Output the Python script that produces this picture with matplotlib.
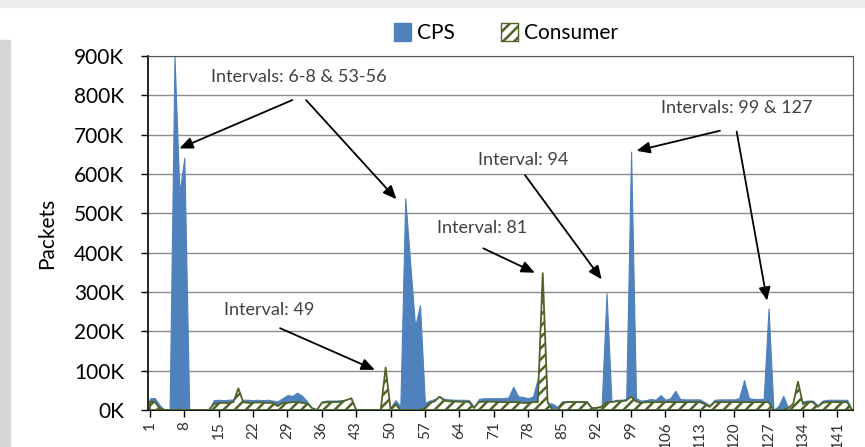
import numpy as np
import matplotlib
matplotlib.use('Agg')
import matplotlib.pyplot as plt
import matplotlib as mpl
from matplotlib.patches import Patch, Rectangle
from matplotlib.ticker import FuncFormatter

mpl.rcParams['font.family'] = ['Lato', 'DejaVu Sans']
mpl.rcParams['hatch.linewidth'] = 1.8

# packets per interval, in thousands
cps = [30, 30, 12, 0, 0, 900, 552, 641, 0, 0, 0, 0, 0, 25, 26, 25, 26, 27, 28, 26,
       26, 25, 26, 25, 26, 24, 22, 30, 38, 36, 44, 36, 22, 5, 0, 22, 24, 24, 24, 25,
       26, 30, 0, 0, 0, 0, 0, 0, 2, 5, 25, 10, 538, 375, 212, 267, 18, 24, 28, 34,
       28, 27, 26, 26, 26, 25, 8, 28, 30, 30, 30, 30, 30, 32, 59, 35, 33, 30, 34, 80,
       20, 18, 16, 8, 22, 23, 23, 23, 23, 22, 5, 8, 10, 297, 22, 26, 26, 28, 657, 30,
       24, 25, 28, 26, 38, 26, 30, 49, 28, 27, 27, 27, 27, 20, 12, 26, 27, 27, 27, 27,
       30, 76, 30, 28, 28, 28, 258, 0, 10, 36, 5, 10, 20, 22, 24, 24, 12, 24, 26, 26,
       26, 26, 26, 0]
consumer = [22, 20, 5, 0, 0, 0, 0, 0, 0, 0, 0, 0, 0, 15, 18, 18, 18, 20, 55, 20,
            18, 19, 19, 19, 18, 18, 10, 18, 18, 20, 20, 18, 17, 5, 0, 18, 20, 20, 20, 21,
            25, 30, 0, 0, 0, 0, 0, 0, 108, 3, 15, 0, 0, 0, 0, 0, 5, 18, 22, 34,
            24, 22, 22, 21, 21, 20, 5, 20, 21, 21, 21, 20, 20, 20, 20, 20, 18, 18, 20, 20,
            348, 20, 0, 0, 18, 20, 20, 20, 20, 20, 5, 5, 8, 20, 20, 22, 22, 24, 34, 22,
            18, 20, 20, 20, 20, 20, 20, 20, 20, 20, 20, 20, 20, 15, 8, 20, 20, 20, 20, 20,
            20, 20, 20, 20, 20, 20, 20, 0, 0, 0, 5, 15, 72, 15, 20, 20, 8, 18, 20, 20,
            20, 20, 20, 0]
intervals = np.arange(1, len(cps) + 1)
tick_pos = np.arange(1, 145, 7)

# annotations: (text, text_xy, [(tail, head), ...]) as (interval, K packets)
notes = [
    ('Intervals: 6-8 & 53-56', (31.3, 847), [((30.0, 788), (7.0, 665)), ((32.8, 788), (51.2, 536))]),
    ('Interval: 49', (25.2, 254), [((27.5, 208), (46.8, 102))]),
    ('Interval: 81', (68.6, 463), [((68.9, 411), (79.4, 349))]),
    ('Interval: 94', (77.0, 636), [((77.4, 597), (93.0, 332))]),
    ('Intervals: 99 & 127', (120.6, 768), [((117.1, 710), (100.1, 659)), ((120.5, 708), (126.7, 278))]),
]

blue = '#4F81BD'
green = '#4F6228'


def k(pt):
    return (pt[0], pt[1] * 1000)


fig = plt.figure(figsize=(8.65, 4.47), dpi=100)
fig.patches.append(Rectangle((0, 1 - 7 / 447), 1, 7 / 447, transform=fig.transFigure,
                             color='#ececec', zorder=0))
fig.patches.append(Rectangle((0, 0), 10 / 865, 1 - 40 / 447, transform=fig.transFigure,
                             color='#d6d6d6', zorder=0))
ax = fig.add_axes([148 / 865, 1 - 410 / 447, 705 / 865, 354 / 447])

ax.fill_between(intervals, 0, np.array(cps) * 1000, color=blue, lw=0.8, zorder=2)
ax.fill_between(intervals, 0, np.array(consumer) * 1000, facecolor='white',
                edgecolor=green, hatch='///', lw=1.3, zorder=3)

ax.set_xlim(0.6, 144.2)
ax.set_ylim(0, 900000)
ax.set_yticks(np.arange(0, 900001, 100000))
ax.yaxis.set_major_formatter(FuncFormatter(lambda v, p: '%dK' % (v / 1000)))
ax.set_xticks(tick_pos)
ax.set_xticklabels([str(t) for t in tick_pos], rotation=90, fontsize=11, color='#303030')
ax.tick_params(axis='y', labelsize=15, length=5, width=1, pad=12)
ax.tick_params(axis='x', length=5, width=1, pad=3)
ax.grid(axis='y', color='#8c8c8c', lw=1, zorder=1)
ax.set_axisbelow(True)
for s in ['top', 'right']:
    ax.spines[s].set_color('#555555')
for s in ['left', 'bottom']:
    ax.spines[s].set_color('black')
    ax.spines[s].set_linewidth(1.2)
ax.set_ylabel('Packets', fontsize=15, labelpad=12)

for text, txy, arrows in notes:
    ax.text(*k(txy), text, ha='center', va='center', fontsize=13, color='#404040', zorder=5)
    for tail, head in arrows:
        ax.annotate('', xy=k(head), xytext=k(tail), zorder=5,
                    arrowprops=dict(arrowstyle='-|>,head_length=0.8,head_width=0.35',
                                    color='black', lw=1.3, shrinkA=0, shrinkB=0))

handles = [Patch(facecolor=blue, edgecolor=blue, label='CPS'),
           Patch(facecolor='white', edgecolor=green, hatch='///', label='Consumer')]
fig.legend(handles=handles, loc='center', bbox_to_anchor=(0.585, 0.926), ncol=2,
           frameon=False, fontsize=15, handlelength=0.8, handleheight=0.9,
           handletextpad=0.3, columnspacing=2.2)

fig.savefig('out.png', dpi=100)
